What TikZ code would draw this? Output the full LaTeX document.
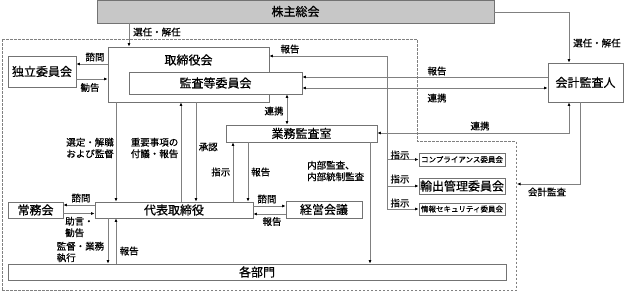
\documentclass[tikz,border=0pt]{standalone}
\usepackage{fontspec}
\setmainfont{Noto Sans CJK JP}[FakeBold=0.6]
\usetikzlibrary{arrows.meta}
\begin{document}
\begin{tikzpicture}[x=1pt,y=-1pt,
  box/.style={draw=black!55, line width=0.8pt, fill=white, inner sep=0pt, font=\fontsize{12}{14}\selectfont},
  conn/.style={draw=black!50, line width=0.9pt},
  arr/.style={conn, -{Latex[length=3.5pt,width=3pt,color=black]}},
  darr/.style={conn, {Latex[length=3.5pt,width=3pt,color=black]}-{Latex[length=3.5pt,width=3pt,color=black]}},
  lbl/.style={font=\fontsize{9.5}{11.5}\selectfont, inner sep=0pt},
  small/.style={font=\fontsize{7.5}{9}\selectfont},
  bound/.style={draw=black!50, line width=0.8pt, dash pattern=on 2.5pt off 1.5pt},
]
\useasboundingbox (0,0) rectangle (624,292);
\fill[white] (0,0) rectangle (624,292);

% boundary
\draw[bound] (2,39.5) -- (417.5,39.5) -- (417.5,141.5) -- (516,141.5) -- (516,290.5) -- (2,290.5) -- cycle;

% boxes
\node[box, fill=black!22, minimum width=397pt, minimum height=23pt] (kabu) at (295.5,11.5) {株主総会};
\node[box, minimum width=161pt, minimum height=55pt] (tori) at (188.5,74.5) {};
\node[inner sep=0pt, font=\fontsize{12}{14}\selectfont] (toriT) at (188.5,60) {取締役会};
\node[box, minimum width=173pt, minimum height=22pt] (kansa) at (215.5,83) {監査等委員会};
\node[box, minimum width=68pt, minimum height=31pt] (doku) at (42,71.5) {独立委員会};
\node[box, minimum width=75pt, minimum height=39pt] (kaikei) at (585.5,82.5) {会計監査人};
\node[box, minimum width=151pt, minimum height=17pt] (gyomu) at (301.5,133.5) {業務監査室};
\node[box, minimum width=158pt, minimum height=16pt] (daihyo) at (174,210) {代表取締役};
\node[box, minimum width=76pt, minimum height=17pt] (keiei) at (324,209.5) {経営会議};
\node[box, minimum width=55pt, minimum height=16pt] (jomu) at (35.5,210) {常務会};
\node[box, minimum width=498pt, minimum height=16pt] (kakubu) at (257,272) {各部門};
\node[box, small, minimum width=86pt, minimum height=13pt] (comp) at (462,159.5) {コンプライアンス委員会};
\node[box, minimum width=86pt, minimum height=16pt] (yushu) at (462,186) {輸出管理委員会};
\node[box, small, minimum width=86pt, minimum height=12pt] (joho) at (462,209) {情報セキュリティ委員会};

% shareholders -> board
\draw[arr] (kabu.south -| 129,0) -- (tori.north -| 129,0);
\node[lbl, anchor=west] (l1) at (133,32) {選任・解任};
\draw[arr] (kabu.east |- 0,12) -| (kaikei.north -| 569,0);
\node[lbl, anchor=west] (l2) at (573,43) {選任・解任};

% independent committee
\draw[arr] (tori.west |- 0,64) -- (doku.east |- 0,64);
\node[lbl] (l3) at (95,57) {諮問};
\draw[arr] (doku.east |- 0,79) -- (tori.west |- 0,79);
\node[lbl] (l4) at (90,87.5) {勧告};

% committees report / instruction line
\coordinate (cv) at (387,209);
\draw[arr] (cv) -- (387,56) -- (tori.east |- 0,56);
\node[lbl] (l5) at (290,49) {報告};
\draw[arr] (comp.west -| cv) -- (comp.west);
\draw[arr] (yushu.west -| cv) -- (yushu.west);
\draw[arr] (joho.west -| cv) -- (joho.west);
\node[lbl] (l6) at (400,155) {指示};
\node[lbl] (l7) at (400,179) {指示};
\node[lbl] (l8) at (400,203) {指示};

% accounting auditor
\draw[arr] (kaikei.west |- 0,77) -- (kansa.east |- 0,77);
\node[lbl] (l9) at (437,71) {報告};
\draw[darr] (kansa.east |- 0,88) -- (kaikei.west |- 0,88);
\node[lbl] (l10) at (437,98) {連携};
\draw[darr] (gyomu.east |- 0,133) -| (kaikei.south -| 569,0);
\node[lbl] (l11) at (480,126) {連携};
\draw[arr] (kaikei.south -| 580,0) |- (517,184);
\node[lbl] (l12) at (547,192) {会計監査};

% audit committee <-> internal audit
\draw[darr] (kansa.south -| 287,0) -- (gyomu.north -| 287,0);
\node[lbl] (l13) at (274,111) {連携};

% board <-> representative director
\draw[arr] (tori.south -| 116,0) -- (daihyo.north -| 116,0);
\node[lbl, anchor=east, align=right] (l14) at (114,148) {選定・解職\\および監督};
\draw[arr] (daihyo.north -| 181,0) -- (tori.south -| 181,0);
\node[lbl, anchor=east, align=center] (l15) at (178.5,148) {重要事項の\\付議・報告};
\draw[arr] (tori.south -| 196,0) -- (daihyo.north -| 196,0);
\node[lbl, anchor=west] (l16) at (198.5,147) {承認};

% internal audit <-> representative
\draw[arr] (daihyo.north -| 233,0) -- (gyomu.south -| 233,0);
\node[lbl, anchor=east] (l17) at (230.5,172) {指示};
\draw[arr] (gyomu.south -| 248,0) -- (daihyo.north -| 248,0);
\node[lbl, anchor=west] (l18) at (251,172) {報告};
\draw[arr] (gyomu.south -| 370,0) -- (kakubu.north -| 370,0);
\node[lbl, anchor=west, align=left] (l19) at (307,171) {内部監査、\\内部統制監査};

% management meeting
\draw[arr] (daihyo.east |- 0,206) -- (keiei.west |- 0,206);
\node[lbl] (l20) at (267,199) {諮問};
\draw[arr] (keiei.west |- 0,214) -- (daihyo.east |- 0,214);
\node[lbl] (l21) at (272,221.5) {報告};

% executive committee
\draw[arr] (daihyo.west |- 0,205) -- (jomu.east |- 0,205);
\node[lbl] (l22) at (81,198) {諮問};
\draw[arr] (jomu.east |- 0,213.5) -- (daihyo.west |- 0,213.5);
\node[lbl, anchor=west, align=left] (l23) at (65,227) {助言・\\勧告};

% representative <-> departments
\draw[arr] (daihyo.south -| 108,0) -- (kakubu.north -| 108,0);
\node[lbl, anchor=west, align=left] (l24) at (56.5,252) {監督・業務\\執行};
\draw[arr] (kakubu.north -| 116,0) -- (daihyo.south -| 116,0);
\node[lbl, anchor=west] (l25) at (119.5,251) {報告};
\end{tikzpicture}
\end{document}
